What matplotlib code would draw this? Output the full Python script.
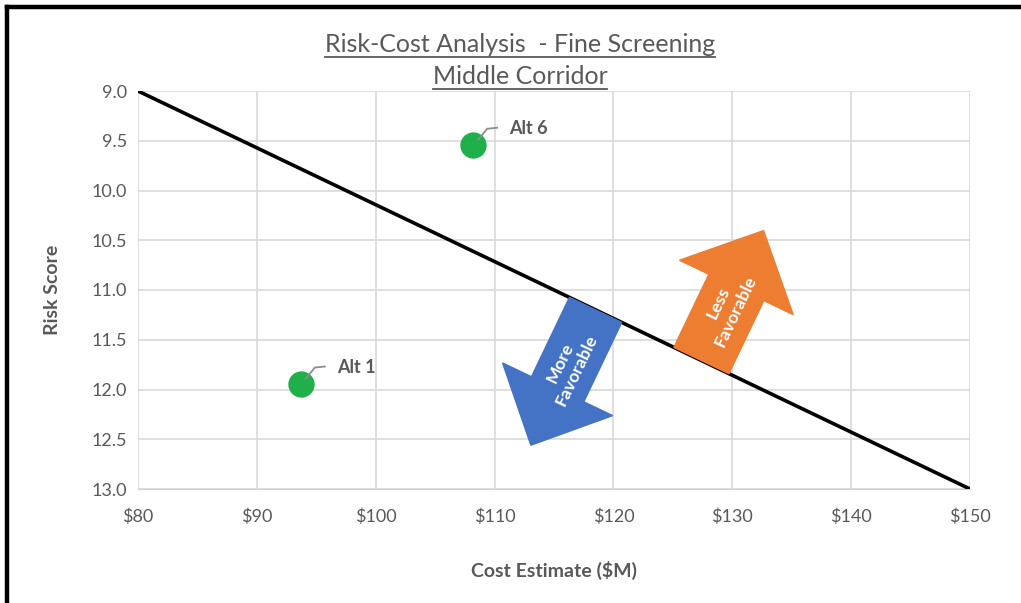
import numpy as np
import matplotlib
matplotlib.use("Agg")
from matplotlib import pyplot as plt
from matplotlib.patches import Polygon
from matplotlib.lines import Line2D
from matplotlib.ticker import FuncFormatter

# alternatives (cost in $M, risk score)
alt_names = ["Alt 1", "Alt 6"]
alt_cost = [93.7, 108.2]
alt_risk = [11.94, 9.54]

# break-even line between favorable / less favorable
line_cost = [80, 150]
line_risk = [9.0, 13.0]

x_ticks = [80, 90, 100, 110, 120, 130, 140, 150]
y_ticks = [9.0, 9.5, 10.0, 10.5, 11.0, 11.5, 12.0, 12.5, 13.0]

gray_txt = "#595959"
plt.rcParams['font.family'] = ['Lato', 'DejaVu Sans']

W, H = 1021, 603
fig = plt.figure(figsize=(W / 100, H / 100), dpi=100)
fig.patch.set_facecolor("white")
ax = fig.add_axes([138 / W, 114 / H, 832 / W, 398 / H])

ax.set_xlim(80, 150)
ax.set_ylim(13.0, 9.0)
ax.set_xticks(x_ticks)
ax.set_yticks(y_ticks)
ax.xaxis.set_major_formatter(FuncFormatter(lambda v, p: "${:d}".format(int(v))))
ax.yaxis.set_major_formatter(FuncFormatter(lambda v, p: "{:.1f}".format(v)))
ax.tick_params(length=0, labelsize=13, colors=gray_txt, pad=8)
ax.tick_params(axis="x", pad=14)
ax.grid(True, color="#d9d9d9", lw=1.2)
ax.set_axisbelow(True)
for s in ax.spines.values():
    s.set_visible(False)
ax.spines["bottom"].set_visible(True)
ax.spines["bottom"].set_color("#d0d0d0")

ax.set_xlabel("Cost Estimate ($M)", fontsize=14, fontweight="bold", color=gray_txt, labelpad=26)
ax.set_ylabel("Risk Score", fontsize=14, fontweight="bold", color=gray_txt, labelpad=22)

ax.plot(line_cost, line_risk, color="black", lw=2.6, solid_capstyle="butt", zorder=4)
ax.scatter(alt_cost, alt_risk, s=360, color="#1fb04b", zorder=5, linewidths=0)

# labels with small leader lines
for name, cx, cy in zip(alt_names, alt_cost, alt_risk):
    px, py = ax.transData.transform((cx, cy))
    pts = [(px + 5, py + 5), (px + 14, py + 16), (px + 24, py + 17)]
    xs, ys = zip(*pts)
    fig.add_artist(Line2D(np.array(xs) / W, np.array(ys) / H, color="#8c8c8c", lw=1.3))
    fig.text((px + 36) / W, (py + 16) / H, name, fontsize=13, fontweight="bold",
             color=gray_txt, va="center", ha="left")

# block arrows perpendicular to the line
p0 = ax.transData.transform((line_cost[0], line_risk[0]))
p1 = ax.transData.transform((line_cost[1], line_risk[1]))
d = (p1 - p0) / np.hypot(*(p1 - p0))
n = np.array([-d[1], d[0]])  # points up-right (away from favorable side)


def block_arrow(base_cost, sign, shaft_w, shaft_len, head_w, head_len, color, label):
    y_on_line = np.interp(base_cost, line_cost, line_risk)
    b = ax.transData.transform((base_cost, y_on_line))
    u = n * sign
    verts = [b - d * shaft_w / 2, b - d * shaft_w / 2 + u * shaft_len,
             b - d * head_w / 2 + u * shaft_len, b + u * (shaft_len + head_len),
             b + d * head_w / 2 + u * shaft_len, b + d * shaft_w / 2 + u * shaft_len,
             b + d * shaft_w / 2]
    verts = np.array(verts) / [W, H]
    fig.add_artist(Polygon(verts, closed=True, facecolor=color, edgecolor=color, zorder=3))
    c = b + u * (shaft_len * 0.5 + head_len * 0.3)
    ang = np.degrees(np.arctan2(n[1], n[0]))
    fig.text(c[0] / W, c[1] / H, label, rotation=ang, rotation_mode="anchor",
             ha="center", va="center", color="white", fontsize=12.5, fontweight="bold",
             linespacing=1.2)


block_arrow(118.5, -1, 58, 88, 122, 62, "#4472c4", "More\nFavorable")
block_arrow(127.4, 1, 61, 81, 126, 63, "#ed7d31", "Less\nFavorable")

# two-line underlined title
fig.canvas.draw()
r = fig.canvas.get_renderer()
for txt, yc in [("Risk-Cost Analysis  - Fine Screening", 44), ("Middle Corridor", 76)]:
    t = fig.text(520 / W, 1 - yc / H, txt, fontsize=18, color=gray_txt, ha="center", va="center")
    bb = t.get_window_extent(r)
    uy = bb.y0 - 1
    fig.add_artist(Line2D([bb.x0 / W, bb.x1 / W], [uy / H, uy / H], color=gray_txt, lw=1.3))

# outer frame
fig.add_artist(Line2D([7 / W, 7 / W], [0, 1 - 7 / H], color="black", lw=3.2))
fig.add_artist(Line2D([7 / W, 1], [1 - 7 / H, 1 - 7 / H], color="black", lw=3.2))

fig.savefig("out.png", dpi=100, facecolor="white")
